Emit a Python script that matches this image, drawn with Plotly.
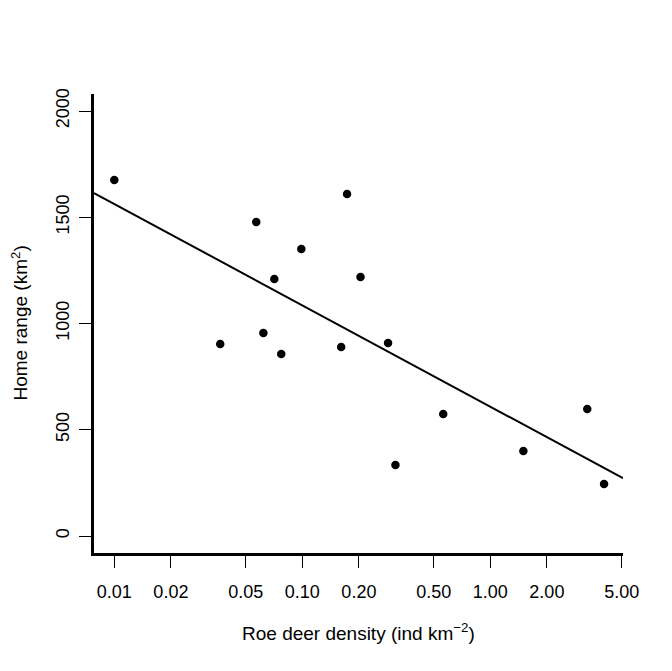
import plotly.graph_objects as go

# Data
density = [0.0100, 0.0366, 0.0569, 0.0621, 0.0710, 0.0773, 0.0988, 0.161, 0.173,
           0.204, 0.286, 0.313, 0.562, 1.50, 3.28, 4.03]
home_range = [1675, 903, 1478, 955, 1209, 856, 1351, 889, 1609,
              1219, 908, 334, 574, 400, 598, 245]

fit_x = [0.00780, 5.08]
fit_y = [1614, 272]

x_tickvals = [0.01, 0.02, 0.05, 0.1, 0.2, 0.5, 1, 2, 5]
x_ticktext = ["0.01", "0.02", "0.05", "0.10", "0.20", "0.50", "1.00", "2.00", "5.00"]
y_tickvals = [0, 500, 1000, 1500, 2000]
y_ticktext = ["0", "500", "1000", "1500", "2000"]

FONT = "Liberation Sans, Arial, sans-serif"

fig = go.Figure()
fig.add_trace(go.Scatter(x=fit_x, y=fit_y, mode="lines",
                         line=dict(color="black", width=2), showlegend=False,
                         hoverinfo="skip"))
fig.add_trace(go.Scatter(x=density, y=home_range, mode="markers",
                         marker=dict(color="black", size=8.5), showlegend=False))

fig.update_layout(
    width=672, height=671,
    margin=dict(l=86, r=57, t=86, b=126),
    paper_bgcolor="white", plot_bgcolor="white",
    font=dict(family=FONT, size=18, color="black"),
    xaxis=dict(type="log", range=[-2.108, 0.706],
               tickvals=x_tickvals, ticktext=x_ticktext,
               ticks="outside", ticklen=12, tickwidth=1.3, tickcolor="black",
               showline=True, linecolor="black", linewidth=2.5,
               showgrid=False, zeroline=False, ticklabelstandoff=9),
    yaxis=dict(range=[-80, 2080],
               tickvals=y_tickvals, ticktext=y_ticktext, tickangle=-90,
               ticks="outside", ticklen=12, tickwidth=1.3, tickcolor="black",
               showline=True, linecolor="black", linewidth=2.5,
               showgrid=False, zeroline=False, ticklabelstandoff=3),
    annotations=[
        dict(text="Roe deer density (ind km<sup>\u22122</sup>)", xref="paper", yref="paper",
             x=0.5, y=0, yanchor="middle", xanchor="center", yshift=-79,
             showarrow=False, font=dict(family=FONT, size=19, color="black")),
        dict(text="Home range (km<sup>2</sup>)", xref="paper", yref="paper",
             x=0, y=0.5, xanchor="center", yanchor="middle", xshift=-75,
             textangle=-90, showarrow=False,
             font=dict(family=FONT, size=19, color="black")),
    ],
)

fig.write_html("out.html")
